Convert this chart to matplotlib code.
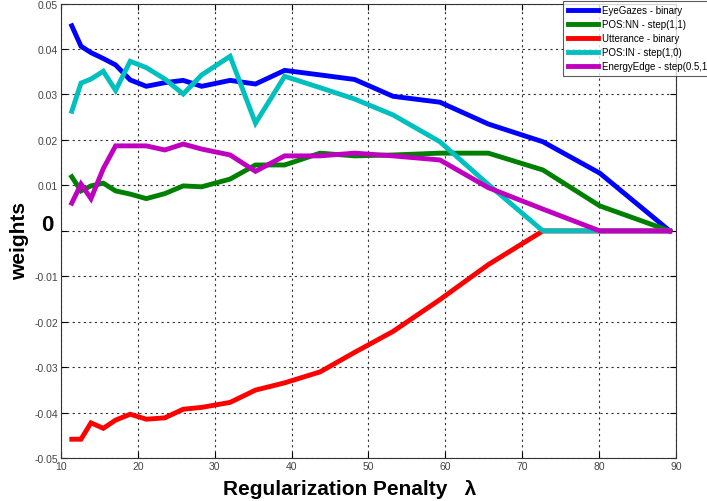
import numpy as np
import matplotlib.pyplot as plt

plt.rcParams['font.family'] = ['Liberation Sans', 'DejaVu Sans']

# regularization penalty values (x positions of the path samples)
lam = [11.4, 12.6, 13.9, 15.5, 17.1, 19.0, 21.1, 23.5, 25.9, 28.3, 32.0,
       35.3, 39.1, 43.7, 48.2, 53.2, 59.3, 65.6, 72.7, 80.1, 89.2]

eye_gazes = [0.0451, 0.0406, 0.0392, 0.0379, 0.0365, 0.0332, 0.0318, 0.0326,
             0.0331, 0.0318, 0.0331, 0.0323, 0.0353, 0.0343, 0.0333, 0.0296,
             0.0283, 0.0235, 0.0196, 0.0127, 0.0]
pos_nn = [0.0119, 0.0088, 0.0099, 0.0105, 0.0088, 0.0081, 0.0071, 0.0082,
          0.0099, 0.0097, 0.0114, 0.0145, 0.0145, 0.0171, 0.0165, 0.0167,
          0.0171, 0.0171, 0.0134, 0.0055, 0.0]
utterance = [-0.0458, -0.0458, -0.0422, -0.0434, -0.0416, -0.0403, -0.0414,
             -0.0411, -0.0392, -0.0388, -0.0377, -0.0350, -0.0334, -0.0310,
             -0.0267, -0.0221, -0.0151, -0.0074, 0.0, 0.0, 0.0]
pos_in = [0.0263, 0.0325, 0.0334, 0.0351, 0.0309, 0.0373, 0.0359, 0.0334,
          0.0301, 0.0343, 0.0384, 0.0237, 0.0340, 0.0315, 0.0290, 0.0255,
          0.0196, 0.0102, 0.0, 0.0, 0.0]
energy_edge = [0.0061, 0.0103, 0.0071, 0.0137, 0.0187, 0.0187, 0.0187, 0.0178,
               0.0191, 0.0180, 0.0167, 0.0131, 0.0165, 0.0165, 0.0171, 0.0165,
               0.0156, 0.0095, 0.0048, 0.0, 0.0]

series = [
    ('EyeGazes - binary', eye_gazes, '#0000ff'),
    ('POS:NN - step(1,1)', pos_nn, '#008000'),
    ('Utterance - binary', utterance, '#ff0000'),
    ('POS:IN - step(1,0)', pos_in, '#00bfbf'),
    ('EnergyEdge - step(0.5,1)', energy_edge, '#bf00bf'),
]

fig = plt.figure(figsize=(7.07, 5.02), dpi=100)
ax = fig.add_axes([0.0863, 0.085, 0.8697, 0.906])

for name, vals, col in series:
    ax.plot(lam, vals, color=col, lw=3.5, label=name, solid_joinstyle='miter')

ax.set_xlim(10, 90)
ax.set_ylim(-0.05, 0.05)
ax.tick_params(direction='in', length=4, width=0.8, labelsize=7.5,
               labelcolor='#444444', top=True, right=True, pad=2)
ax.set_xticks(np.arange(10, 91, 10))
yt = np.round(np.arange(-0.05, 0.051, 0.01), 2)
ax.set_yticks(yt)
# the zero label is drawn separately, big and bold
ax.set_yticklabels(['' if abs(v) < 1e-9 else ('%g' % v) for v in yt])
ax.text(-0.022, 0.0015, '0', transform=ax.get_yaxis_transform(),
        ha='center', va='center', fontsize=16, fontweight='bold')

ax.grid(True, linestyle=(0, (2, 3)), color='#333333', lw=0.8)
for s in ax.spines.values():
    s.set_color('#333333')

ax.set_xlabel('Regularization Penalty   λ', fontsize=15, fontweight='bold')
ax.xaxis.set_label_coords(0.47, -0.045)
ax.set_ylabel('weights', fontsize=15, fontweight='bold')
ax.yaxis.set_label_coords(-0.052, 0.48)

leg = ax.legend(loc='upper left', bbox_to_anchor=(0.817, 1.006), fontsize=7,
                frameon=True, fancybox=False, handlelength=3.1,
                handletextpad=0.45, borderpad=0.45, labelspacing=0.42,
                borderaxespad=0)
leg.get_frame().set_edgecolor('#333333')
leg.get_frame().set_linewidth(0.8)

fig.savefig('out.png', dpi=100)
